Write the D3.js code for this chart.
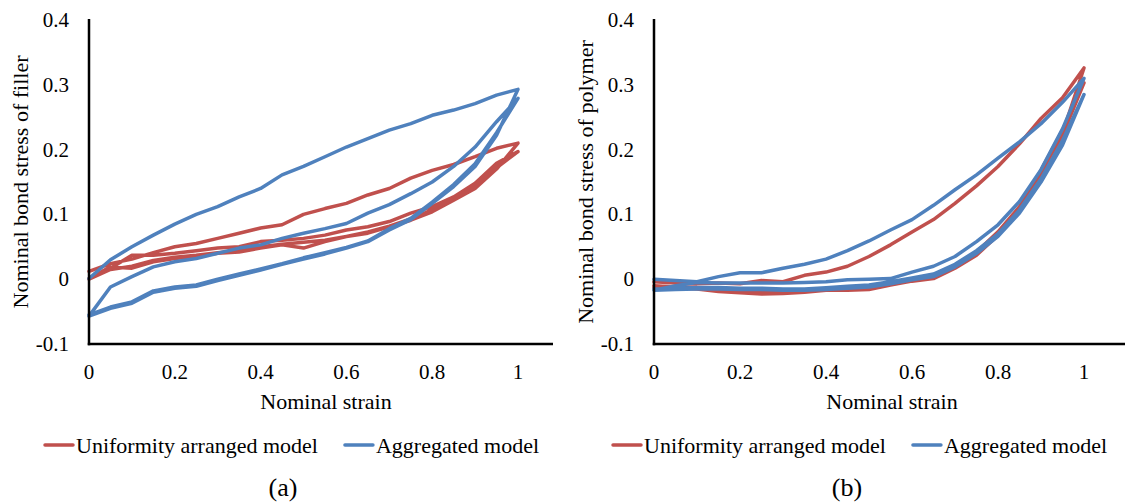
<!DOCTYPE html>
<html>
<head>
<meta charset="utf-8">
<script src="https://cdn.jsdelivr.net/npm/d3@7/dist/d3.min.js"></script>
<style>
  html, body { margin: 0; padding: 0; background: #fff; }
  svg text { font-family: "Liberation Serif", "Times New Roman", serif; fill: #000; }
</style>
</head>
<body>
<svg id="fig" width="1125" height="502"></svg>
<script>
// Strain sample points shared by every branch (loading direction)
const strain = [0, 0.05, 0.1, 0.15, 0.2, 0.25, 0.3, 0.35, 0.4, 0.45, 0.5,
                0.55, 0.6, 0.65, 0.7, 0.75, 0.8, 0.85, 0.9, 0.95, 1];

const xTickLabels = ["0", "0.2", "0.4", "0.6", "0.8", "1"];
const yTickLabels = ["-0.1", "0", "0.1", "0.2", "0.3", "0.4"];
const seriesNames = ["Uniformity arranged model", "Aggregated model"];
const seriesColors = ["#C0504D", "#4F81BD"];

// (a) filler bond stress — uniformity arranged model, branches in cycle order
const fillerUniformLoad1   = [0.012, 0.024, 0.031, 0.041, 0.050, 0.055, 0.063, 0.071, 0.079, 0.084, 0.100, 0.109, 0.117, 0.130, 0.140, 0.156, 0.168, 0.177, 0.189, 0.202, 0.210];
const fillerUniformUnload1 = [0.001, 0.019, 0.017, 0.027, 0.032, 0.035, 0.040, 0.042, 0.048, 0.053, 0.048, 0.058, 0.066, 0.071, 0.081, 0.091, 0.104, 0.122, 0.140, 0.170, 0.210];
const fillerUniformLoad2   = [0.001, 0.017, 0.037, 0.037, 0.040, 0.044, 0.048, 0.050, 0.058, 0.060, 0.063, 0.068, 0.076, 0.081, 0.089, 0.102, 0.112, 0.127, 0.148, 0.179, 0.197];
const fillerUniformUnload2 = [0.000, 0.015, 0.020, 0.029, 0.034, 0.037, 0.041, 0.044, 0.050, 0.054, 0.057, 0.060, 0.066, 0.073, 0.082, 0.093, 0.107, 0.124, 0.143, 0.172, 0.197];

// (a) filler bond stress — aggregated model
const fillerAggLoad1   = [0.001, 0.030, 0.050, 0.068, 0.085, 0.100, 0.112, 0.127, 0.140, 0.161, 0.174, 0.189, 0.204, 0.217, 0.230, 0.240, 0.253, 0.261, 0.271, 0.284, 0.293];
const fillerAggUnload1 = [-0.057, -0.045, -0.037, -0.020, -0.014, -0.011, -0.002, 0.006, 0.014, 0.023, 0.031, 0.039, 0.048, 0.058, 0.076, 0.092, 0.117, 0.143, 0.174, 0.222, 0.293];
const fillerAggLoad2   = [-0.057, -0.012, 0.004, 0.019, 0.027, 0.032, 0.040, 0.048, 0.053, 0.063, 0.071, 0.078, 0.086, 0.102, 0.115, 0.132, 0.150, 0.174, 0.204, 0.243, 0.279];
const fillerAggUnload2 = [-0.055, -0.043, -0.035, -0.018, -0.012, -0.009, 0.000, 0.008, 0.016, 0.024, 0.033, 0.041, 0.049, 0.059, 0.078, 0.094, 0.119, 0.146, 0.178, 0.226, 0.279];

// (b) polymer bond stress — uniformity arranged model
const polyUniformLoad1   = [-0.004, -0.006, -0.007, -0.006, -0.007, -0.002, -0.004, 0.006, 0.011, 0.020, 0.035, 0.053, 0.073, 0.092, 0.117, 0.144, 0.174, 0.209, 0.248, 0.280, 0.326];
const polyUniformUnload1 = [-0.010, -0.012, -0.014, -0.018, -0.021, -0.023, -0.022, -0.020, -0.017, -0.017, -0.016, -0.009, -0.003, 0.001, 0.017, 0.037, 0.068, 0.107, 0.163, 0.225, 0.326];
const polyUniformLoad2   = [-0.010, -0.012, -0.013, -0.016, -0.018, -0.020, -0.020, -0.018, -0.015, -0.014, -0.013, -0.007, 0.000, 0.005, 0.021, 0.042, 0.073, 0.112, 0.168, 0.230, 0.303];
const polyUniformUnload2 = [-0.012, -0.013, -0.015, -0.019, -0.021, -0.022, -0.021, -0.019, -0.016, -0.016, -0.014, -0.008, -0.002, 0.003, 0.019, 0.040, 0.070, 0.110, 0.165, 0.222, 0.303];

// (b) polymer bond stress — aggregated model
const polyAggLoad1   = [0.000, -0.002, -0.004, 0.004, 0.010, 0.010, 0.017, 0.023, 0.031, 0.044, 0.059, 0.076, 0.092, 0.114, 0.138, 0.161, 0.187, 0.212, 0.240, 0.273, 0.310];
const polyAggUnload1 = [-0.017, -0.010, -0.005, -0.006, -0.006, -0.006, -0.006, -0.005, -0.004, -0.001, 0.000, 0.001, 0.011, 0.020, 0.035, 0.058, 0.084, 0.120, 0.169, 0.232, 0.310];
const polyAggLoad2   = [-0.017, -0.016, -0.015, -0.015, -0.016, -0.016, -0.017, -0.017, -0.016, -0.014, -0.012, -0.007, -0.001, 0.004, 0.019, 0.040, 0.066, 0.102, 0.150, 0.207, 0.285];
const polyAggUnload2 = [-0.015, -0.014, -0.013, -0.013, -0.014, -0.014, -0.015, -0.015, -0.013, -0.011, -0.009, -0.004, 0.002, 0.008, 0.023, 0.044, 0.070, 0.107, 0.155, 0.214, 0.285];

// Join load/unload branches into one continuous strain–stress path
function cyclePath(load1, unload1, load2, unload2) {
  const up = (arr) => strain.map((s, i) => [s, arr[i]]);
  const down = (arr) => up(arr).reverse();
  return [...up(load1), ...down(unload1), ...up(load2), ...down(unload2)];
}

const panels = [
  {
    left: 89, right: 518, axisEnd: 553,
    yTitle: "Nominal bond stress of filler", yTitleX: 20, xTitleX: 326,
    caption: "(a)", captionX: 283, legendX: 45,
    series: [
      cyclePath(fillerUniformLoad1, fillerUniformUnload1, fillerUniformLoad2, fillerUniformUnload2),
      cyclePath(fillerAggLoad1, fillerAggUnload1, fillerAggLoad2, fillerAggUnload2)
    ]
  },
  {
    left: 654, right: 1084, axisEnd: 1125,
    yTitle: "Nominal bond stress of polymer", yTitleX: 585, xTitleX: 892,
    caption: "(b)", captionX: 847, legendX: 613,
    series: [
      cyclePath(polyUniformLoad1, polyUniformUnload1, polyUniformLoad2, polyUniformUnload2),
      cyclePath(polyAggLoad1, polyAggUnload1, polyAggLoad2, polyAggUnload2)
    ]
  }
];

const svg = d3.select("#fig");
const y = d3.scaleLinear().domain([-0.1, 0.4]).range([344, 20]);

panels.forEach(p => {
  const x = d3.scaleLinear().domain([0, 1]).range([p.left, p.right]);
  const g = svg.append("g");

  // series lines (red first, blue on top)
  const line = d3.line().x(d => x(d[0])).y(d => y(d[1]));
  p.series.forEach((pts, k) => {
    g.append("path")
      .attr("d", line(pts))
      .attr("fill", "none")
      .attr("stroke", seriesColors[k])
      .attr("stroke-width", 3.5)
      .attr("stroke-linejoin", "round")
      .attr("stroke-linecap", "round");
  });

  // axis lines
  g.append("line")
    .attr("x1", x(0)).attr("x2", x(0))
    .attr("y1", y(0.4) - 1).attr("y2", y(-0.1) + 1.25)
    .attr("stroke", "#000").attr("stroke-width", 2.5);
  g.append("line")
    .attr("x1", x(0) - 1.25).attr("x2", p.axisEnd)
    .attr("y1", y(-0.1)).attr("y2", y(-0.1))
    .attr("stroke", "#000").attr("stroke-width", 2.5);

  // tick labels
  g.selectAll(".xt").data(xTickLabels).enter().append("text")
    .attr("x", d => x(+d)).attr("y", y(-0.1) + 28)
    .attr("text-anchor", "middle").attr("dominant-baseline", "central")
    .style("font-size", "21px").text(d => d);
  g.selectAll(".yt").data(yTickLabels).enter().append("text")
    .attr("x", x(0) - 20).attr("y", d => y(+d))
    .attr("text-anchor", "end").attr("dominant-baseline", "central")
    .style("font-size", "21px").text(d => d);

  // axis titles
  g.append("text")
    .attr("x", p.xTitleX).attr("y", 401)
    .attr("text-anchor", "middle").attr("dominant-baseline", "central")
    .style("font-size", "22px").text("Nominal strain");
  g.append("text")
    .attr("transform", `translate(${p.yTitleX},${(y(0.4) + y(-0.1)) / 2}) rotate(-90)`)
    .attr("text-anchor", "middle").attr("dominant-baseline", "central")
    .style("font-size", "22px").text(p.yTitle);

  // legend
  const leg = g.append("g");
  let lx = p.legendX;
  seriesNames.forEach((name, k) => {
    leg.append("line")
      .attr("x1", lx).attr("x2", lx + 28)
      .attr("y1", 445).attr("y2", 445)
      .attr("stroke", seriesColors[k]).attr("stroke-width", 3.5)
      .attr("stroke-linecap", "round");
    const t = leg.append("text")
      .attr("x", lx + 31).attr("y", 445)
      .attr("dominant-baseline", "central")
      .style("font-size", "22px").text(name);
    lx += 31 + t.node().getComputedTextLength() + 27;
  });

  // panel caption
  g.append("text")
    .attr("x", p.captionX).attr("y", 487)
    .attr("text-anchor", "middle").attr("dominant-baseline", "central")
    .style("font-size", "26px").text(p.caption);
});
</script>
</body>
</html>
